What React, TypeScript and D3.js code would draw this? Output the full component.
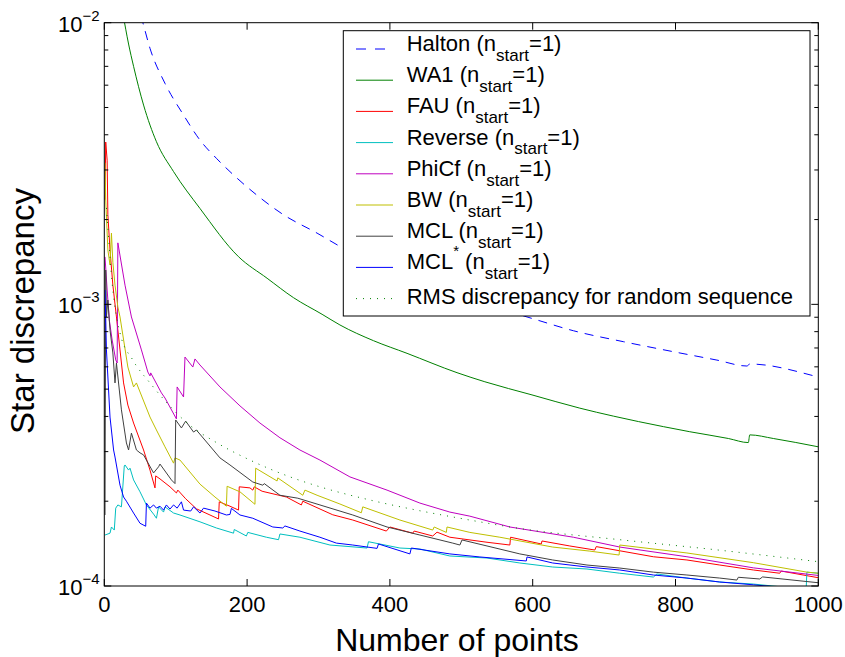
import React from "react";
import * as d3 from "d3";

type Pt = [number, number];

// Star discrepancy against number of points, one array per sequence: [n, D*]
const halton: Pt[] = [
  [45, 1.2e-2], [54, 1.0e-2], [64, 8.11e-3], [85, 6.09e-3], [111, 4.7e-3], [134, 3.83e-3],
  [157, 3.3e-3], [181, 2.88e-3], [213, 2.45e-3], [251, 2.08e-3], [298, 1.79e-3], [335, 1.58e-3],
  [470, 1.13e-3], [603, 8.85e-4], [657, 8.06e-4], [727, 7.37e-4], [797, 6.79e-4], [858, 6.34e-4],
  [900, 6.04e-4], [904, 6.14e-4], [993, 5.58e-4], [1000, 5.52e-4],
];

const wa1: Pt[] = [
  [26, 1.08e-2], [34, 8.4e-3], [41, 7.0e-3], [55, 5.1e-3], [73, 3.78e-3], [97, 2.96e-3],
  [134, 2.19e-3], [188, 1.476e-3], [228, 1.238e-3], [265, 1.056e-3], [305, 9.22e-4],
  [330, 8.45e-4], [377, 7.43e-4], [424, 6.7e-4], [494, 5.72e-4], [533, 5.31e-4], [599, 4.77e-4],
  [666, 4.28e-4], [713, 4.01e-4], [783, 3.68e-4], [820, 3.53e-4], [874, 3.34e-4],
  [902, 3.23e-4], [904, 3.44e-4], [937, 3.34e-4], [1000, 3.12e-4],
];

const fau: Pt[] = [
  [1, 2.35e-3], [2, 3.77e-3], [4, 3.25e-3], [5, 2.08e-3], [8, 1.56e-3], [12, 1.17e-3],
  [17, 9.02e-4], [22, 6.89e-4], [27, 5.26e-4], [33, 4.39e-4], [41, 3.79e-4], [55, 3.04e-4],
  [64, 2.58e-4], [71, 2.23e-4], [72, 2.46e-4], [78, 2.4e-4], [92, 2.25e-4], [101, 2.14e-4],
  [103, 2.19e-4], [114, 2.04e-4], [129, 1.88e-4], [148, 1.787e-4], [160, 1.73e-4],
  [161, 1.99e-4], [176, 1.92e-4], [188, 1.86e-4], [189, 2.25e-4], [204, 2.23e-4],
  [208, 2.19e-4], [210, 2.25e-4], [221, 2.17e-4], [255, 2.07e-4], [276, 1.94e-4],
  [278, 2.0e-4], [320, 1.79e-4], [348, 1.715e-4], [395, 1.567e-4], [400, 1.62e-4],
  [432, 1.54e-4], [434, 1.567e-4], [460, 1.505e-4], [466, 1.553e-4], [484, 1.49e-4],
  [536, 1.43e-4], [568, 1.398e-4], [569, 1.49e-4], [612, 1.41e-4], [613, 1.445e-4],
  [652, 1.387e-4], [687, 1.342e-4], [689, 1.38e-4], [769, 1.27e-4], [816, 1.237e-4],
  [862, 1.187e-4], [909, 1.14e-4], [946, 1.11e-4], [948, 1.13e-4], [1000, 1.07e-4],
];

const reverse: Pt[] = [
  [1, 1.517e-4], [8, 1.54e-4], [10, 1.62e-4], [14, 1.58e-4], [16, 1.89e-4], [19, 1.94e-4],
  [24, 1.91e-4], [28, 2.67e-4], [29, 2.69e-4], [34, 2.58e-4], [36, 2.62e-4], [41, 2.38e-4],
  [50, 2.16e-4], [59, 1.94e-4], [69, 1.8e-4], [73, 1.74e-4], [76, 1.91e-4], [83, 1.83e-4],
  [85, 1.91e-4], [97, 1.816e-4], [106, 1.787e-4], [134, 1.69e-4], [157, 1.607e-4],
  [181, 1.54e-4], [182, 1.587e-4], [199, 1.505e-4], [201, 1.55e-4], [227, 1.49e-4],
  [244, 1.46e-4], [246, 1.53e-4], [274, 1.49e-4], [316, 1.398e-4], [368, 1.364e-4],
  [370, 1.436e-4], [414, 1.364e-4], [442, 1.353e-4], [484, 1.278e-4], [536, 1.257e-4],
  [582, 1.207e-4], [628, 1.168e-4], [676, 1.149e-4], [722, 1.11e-4], [769, 1.076e-4],
  [774, 1.103e-4], [816, 1.067e-4], [862, 1.033e-4], [909, 1.016e-4], [964, 0.984e-4],
  [983, 0.976e-4], [984, 1.12e-4], [1000, 1.11e-4],
];

const phiCf: Pt[] = [
  [1, 1.474e-3], [4, 1.124e-3], [7, 8.8e-4], [11, 7.47e-4], [16, 6.35e-4], [18, 6.19e-4],
  [19, 1.653e-3], [29, 1.17e-3], [38, 9.02e-4], [52, 6.89e-4], [61, 5.75e-4], [64, 5.57e-4],
  [65, 5.71e-4], [80, 4.85e-4], [85, 4.65e-4], [101, 3.92e-4], [102, 5.09e-4], [111, 4.69e-4],
  [113, 6.5e-4], [124, 5.99e-4], [127, 6.4e-4], [134, 6.09e-4], [162, 5.09e-4], [190, 4.36e-4],
  [218, 3.79e-4], [246, 3.36e-4], [274, 3.04e-4], [302, 2.8e-4], [344, 2.44e-4],
  [396, 2.19e-4], [442, 1.97e-4], [484, 1.83e-4], [512, 1.77e-4], [568, 1.62e-4],
  [657, 1.49e-4], [722, 1.375e-4], [816, 1.27e-4], [909, 1.16e-4], [1000, 1.09e-4],
];

const bw: Pt[] = [
  [1, 3.18e-3], [2, 2.35e-3], [5, 1.56e-3], [8, 1.38e-3], [10, 1.79e-3], [12, 1.41e-3],
  [15, 1.17e-3], [19, 9.79e-4], [22, 9.02e-4], [33, 5.99e-4], [41, 5.09e-4], [45, 5.26e-4],
  [64, 3.98e-4], [73, 3.58e-4], [85, 3.12e-4], [97, 2.73e-4], [99, 2.85e-4], [106, 2.8e-4],
  [134, 2.3e-4], [155, 2.07e-4], [171, 1.92e-4], [172, 2.26e-4], [190, 2.16e-4],
  [211, 1.95e-4], [212, 2.62e-4], [242, 2.36e-4], [243, 2.42e-4], [278, 2.1e-4],
  [281, 2.19e-4], [298, 2.1e-4], [330, 1.955e-4], [360, 1.82e-4], [362, 1.91e-4],
  [414, 1.715e-4], [460, 1.58e-4], [462, 1.62e-4], [479, 1.55e-4], [480, 1.62e-4],
  [512, 1.55e-4], [554, 1.49e-4], [628, 1.375e-4], [680, 1.33e-4], [721, 1.288e-4],
  [722, 1.398e-4], [816, 1.31e-4], [909, 1.21e-4], [984, 1.12e-4], [1000, 1.11e-4],
];

const mcl: Pt[] = [
  [1, 1.787e-4], [2, 1.324e-3], [3, 9.02e-4], [5, 1.036e-3], [8, 8.11e-4], [12, 6.72e-4],
  [15, 5.26e-4], [17, 6.19e-4], [24, 4.22e-4], [31, 3.22e-4], [34, 3.04e-4], [38, 3.49e-4],
  [45, 3.04e-4], [50, 2.97e-4], [55, 2.92e-4], [69, 2.52e-4], [76, 2.65e-4], [78, 2.71e-4],
  [94, 2.38e-4], [99, 2.31e-4], [100, 3.886e-4], [108, 3.64e-4], [114, 3.85e-4],
  [125, 3.52e-4], [129, 3.58e-4], [162, 2.85e-4], [176, 2.69e-4], [208, 2.34e-4],
  [222, 2.28e-4], [224, 2.31e-4], [246, 2.1e-4], [271, 2.05e-4], [302, 1.94e-4],
  [348, 1.787e-4], [396, 1.62e-4], [442, 1.517e-4], [488, 1.42e-4], [498, 1.398e-4],
  [501, 1.457e-4], [536, 1.387e-4], [582, 1.3e-4], [628, 1.237e-4], [676, 1.187e-4],
  [722, 1.158e-4], [769, 1.12e-4], [816, 1.094e-4], [862, 1.067e-4], [886, 1.05e-4],
  [888, 1.074e-4], [918, 1.059e-4], [922, 1.077e-4], [1000, 1.027e-4],
];

const mclStar: Pt[] = [
  [1, 1.124e-3], [3, 6.89e-4], [8, 3.98e-4], [13, 3.04e-4], [15, 2.87e-4], [22, 2.28e-4],
  [27, 2.07e-4], [31, 2.0e-4], [41, 1.816e-4], [50, 1.67e-4], [58, 1.63e-4], [59, 1.97e-4],
  [64, 1.89e-4], [69, 1.94e-4], [73, 1.89e-4], [78, 1.92e-4], [83, 1.86e-4], [87, 1.94e-4],
  [92, 1.876e-4], [97, 1.94e-4], [102, 1.89e-4], [108, 1.99e-4], [111, 1.86e-4],
  [121, 1.846e-4], [125, 1.91e-4], [134, 1.816e-4], [139, 1.89e-4], [155, 1.846e-4],
  [171, 1.787e-4], [176, 1.795e-4], [178, 1.886e-4], [190, 1.787e-4], [208, 1.74e-4],
  [236, 1.62e-4], [250, 1.607e-4], [253, 1.634e-4], [274, 1.567e-4], [302, 1.49e-4],
  [325, 1.42e-4], [348, 1.398e-4], [382, 1.36e-4], [384, 1.41e-4], [428, 1.3e-4],
  [430, 1.364e-4], [484, 1.3e-4], [526, 1.268e-4], [591, 1.227e-4], [592, 1.268e-4],
  [628, 1.207e-4], [676, 1.168e-4], [722, 1.14e-4], [769, 1.094e-4], [816, 1.067e-4],
  [862, 1.033e-4], [909, 1.01e-4], [956, 0.984e-4], [1000, 0.952e-4],
];

const rmsRandom: Pt[] = [
  [3, 2.2e-3], [5, 1.87e-3], [11, 1.19e-3], [22, 7.91e-4], [40, 6.34e-4], [64, 5.26e-4],
  [88, 4.46e-4], [116, 3.79e-4], [158, 3.22e-4], [204, 2.8e-4], [264, 2.42e-4],
  [302, 2.25e-4], [372, 2.02e-4], [442, 1.85e-4], [498, 1.74e-4], [582, 1.6e-4],
  [722, 1.46e-4], [862, 1.34e-4], [1000, 1.22e-4],
];

const xTicks = [0, 200, 400, 600, 800, 1000];
const yMajor = [1e-4, 1e-3, 1e-2];
const yExponents = ["\u22124", "\u22123", "\u22122"];

type Series = {
  name: string;
  sup?: string;
  data: Pt[];
  color: string;
  dash?: string;
  smooth?: boolean;
};

const series: Series[] = [
  { name: "Halton", data: halton, color: "#0000ff", dash: "9,7", smooth: true },
  { name: "WA1", data: wa1, color: "#008000", smooth: true },
  { name: "FAU", data: fau, color: "#ff0000" },
  { name: "Reverse", data: reverse, color: "#00bfbf" },
  { name: "PhiCf", data: phiCf, color: "#bf00bf" },
  { name: "BW", data: bw, color: "#bfbf00" },
  { name: "MCL", data: mcl, color: "#404040" },
  { name: "MCL", sup: "*", data: mclStar, color: "#0000ff" },
];
const rmsLabel = "RMS discrepancy for random sequence";

const W = 845;
const H = 657;
const plot = { left: 104.3, right: 818.3, top: 22.7, bottom: 586 };
const FONT = "'Liberation Sans', Arial, Helvetica, sans-serif";

export default function App() {
  const x = d3.scaleLinear().domain([0, 1000]).range([plot.left, plot.right]);
  const y = d3.scaleLog().domain([1e-4, 1e-2]).range([plot.bottom, plot.top]);

  const straight = d3.line<Pt>().x((d) => x(d[0])).y((d) => y(d[1]));
  const smooth = d3
    .line<Pt>()
    .x((d) => x(d[0]))
    .y((d) => y(d[1]))
    .curve(d3.curveMonotoneX);

  const minor: number[] = [];
  for (const dec of [1e-4, 1e-3]) for (let k = 2; k <= 9; k++) minor.push(k * dec);

  const legend = { x: 343.3, y: 30.7, w: 466.7, h: 285.3, sx0: 356, sx1: 393, tx: 406.7, row0: 49, step: 31.2 };

  return (
    <svg
      width={W}
      height={H}
      style={{ position: "absolute", left: 0, top: 0, background: "#fff" }}
      fontFamily={FONT}
    >
      <defs>
        <clipPath id="plotClip">
          <rect x={plot.left} y={plot.top} width={plot.right - plot.left} height={plot.bottom - plot.top} />
        </clipPath>
      </defs>
      <rect x={0} y={0} width={W} height={H} fill="#fff" />

      {/* curves */}
      <g clipPath="url(#plotClip)" fill="none">
        {series.map((s, i) => (
          <path
            key={i}
            d={(s.smooth ? smooth : straight)(s.data) || ""}
            stroke={s.color}
            strokeWidth={1}
            strokeDasharray={s.dash}
          />
        ))}
        <path d={smooth(rmsRandom) || ""} stroke="#008000" strokeWidth={1} strokeDasharray="1,6" />
      </g>

      {/* axes box */}
      <rect
        x={plot.left}
        y={plot.top}
        width={plot.right - plot.left}
        height={plot.bottom - plot.top}
        fill="none"
        stroke="#000"
        strokeWidth={1}
      />

      {/* x ticks */}
      {xTicks.map((t) => (
        <g key={"x" + t}>
          <line x1={x(t)} x2={x(t)} y1={plot.bottom} y2={plot.bottom - 7} stroke="#000" />
          <line x1={x(t)} x2={x(t)} y1={plot.top} y2={plot.top + 7} stroke="#000" />
          <text x={x(t)} y={612} fontSize={22} textAnchor="middle">
            {t}
          </text>
        </g>
      ))}

      {/* y ticks */}
      {minor.map((t, i) => (
        <g key={"m" + i}>
          <line x1={plot.left} x2={plot.left + 4} y1={y(t)} y2={y(t)} stroke="#000" />
          <line x1={plot.right} x2={plot.right - 4} y1={y(t)} y2={y(t)} stroke="#000" />
        </g>
      ))}
      {yMajor.map((t, i) => (
        <g key={"y" + i}>
          <line x1={plot.left} x2={plot.left + 7} y1={y(t)} y2={y(t)} stroke="#000" />
          <line x1={plot.right} x2={plot.right - 7} y1={y(t)} y2={y(t)} stroke="#000" />
          <text x={99.5} y={y(t) + 9} fontSize={22} textAnchor="end">
            10
            <tspan dy={-11} fontSize={15}>
              {yExponents[i]}
            </tspan>
          </text>
        </g>
      ))}

      {/* axis labels */}
      <text x={457} y={651} fontSize={32} textAnchor="middle">
        Number of points
      </text>
      <text transform="rotate(-90)" x={-311} y={34} fontSize={33} textAnchor="middle">
        Star discrepancy
      </text>

      {/* legend */}
      <rect x={legend.x} y={legend.y} width={legend.w} height={legend.h} fill="#fff" stroke="#000" strokeWidth={1} />
      {series.map((s, i) => {
        const ly = legend.row0 + i * legend.step;
        return (
          <g key={"l" + i}>
            <line
              x1={legend.sx0}
              x2={legend.sx1}
              y1={ly}
              y2={ly}
              stroke={s.color}
              strokeWidth={1}
              strokeDasharray={s.dash ? "10,9" : undefined}
            />
            <text x={legend.tx} y={ly + 2} fontSize={22} style={{ whiteSpace: "pre" }}>
              {s.name}
              {s.sup ? (
                <>
                  <tspan dy={-13} fontSize={15}>
                    {s.sup}
                  </tspan>
                  <tspan dy={13}>{" (n"}</tspan>
                </>
              ) : (
                <tspan>{" (n"}</tspan>
              )}
              <tspan dy={9.7} fontSize={17}>
                start
              </tspan>
              <tspan dy={-9.7}>=1)</tspan>
            </text>
          </g>
        );
      })}
      {(() => {
        const ly = legend.row0 + series.length * legend.step;
        return (
          <g>
            <line x1={legend.sx0} x2={legend.sx1} y1={ly} y2={ly} stroke="#008000" strokeWidth={1} strokeDasharray="1,6" />
            <text x={legend.tx} y={ly + 5} fontSize={22}>
              {rmsLabel}
            </text>
          </g>
        );
      })()}
    </svg>
  );
}
